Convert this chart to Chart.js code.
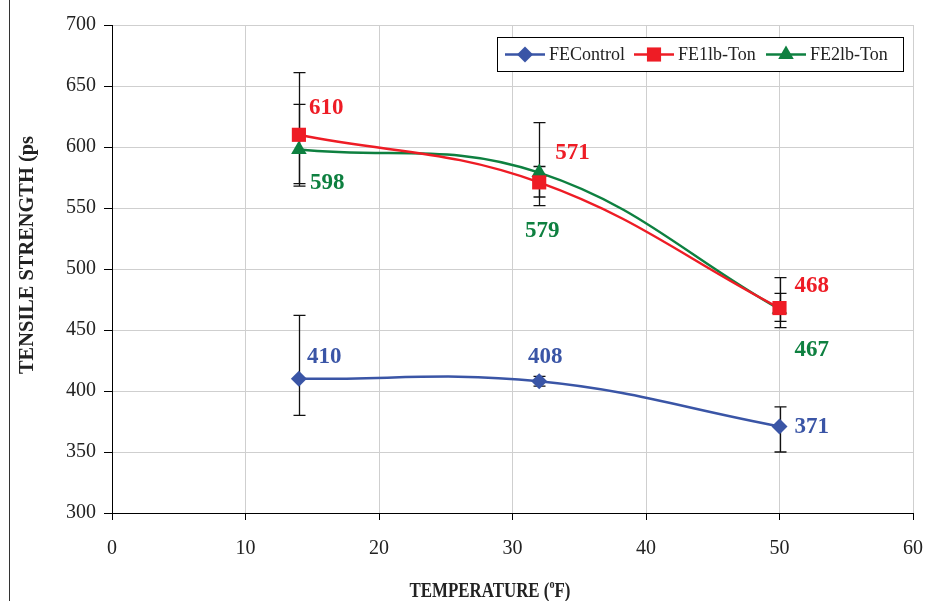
<!DOCTYPE html>
<html>
<head>
<meta charset="utf-8">
<script src="https://cdn.jsdelivr.net/npm/chart.js@4.4.0/dist/chart.umd.min.js"></script>
<style>
  html, body { margin: 0; padding: 0; background: #fff; }
  #wrap { position: relative; width: 925px; height: 601px; }
  #edge { position: absolute; left: 9px; top: 0; width: 1px; height: 601px; background: #333; }
</style>
</head>
<body>
<div id="wrap">
  <canvas id="chart" width="925" height="601"></canvas>
  <div id="edge"></div>
</div>
<script>
// temperature (F)
var temps = [14, 32, 50];
// tensile strength, psi
var feControl = [410, 408, 371];
var fe1lb = [610, 571, 468];
var fe2lb = [598, 579, 467];
// error bar ends
var feControlHigh = [462, 412, 387];
var feControlLow = [380, 404, 350];
var fe1lbHigh = [661, 620, 493];
var fe1lbLow = [568, 552, 452];
var fe2lbHigh = [635, 584, 480];
var fe2lbLow = [570, 559, 457];

var xTicks = [0, 10, 20, 30, 40, 50, 60];
var yTicks = [300, 350, 400, 450, 500, 550, 600, 650, 700];

var BLUE = '#3a55a6', RED = '#ee1c25', GREEN = '#0e8040';
var SERIF = '"Liberation Serif", "Times New Roman", serif';

function pts(vals){
  var out = [];
  for (var i = 0; i < temps.length; i++) out.push({x: temps[i], y: vals[i]});
  return out;
}

// label offsets from the point (px), per dataset
var labelOffsets = [
  [[8, -22, 'left'], [6, -24, 'center'], [15, 1, 'left']],
  [[10, -27, 'left'], [16, -29, 'left'], [15, -22, 'left']],
  [[11, 34, 'left'], [3, 58, 'center'], [15, 41, 'left']]
];

var errorBars = {
  id: 'errorBars',
  beforeDatasetsDraw: function(chart){
    var ctx = chart.ctx, xs = chart.scales.x, ys = chart.scales.y;
    ctx.save();
    ctx.strokeStyle = '#111';
    ctx.lineWidth = 1.3;
    chart.data.datasets.forEach(function(ds){
      for (var i = 0; i < ds.data.length; i++) {
        var px = Math.round(xs.getPixelForValue(ds.data[i].x)) + 0.5;
        var t = ys.getPixelForValue(ds.errHigh[i]);
        var b = ys.getPixelForValue(ds.errLow[i]);
        ctx.beginPath();
        ctx.moveTo(px, t); ctx.lineTo(px, b);
        ctx.moveTo(px - 6, t); ctx.lineTo(px + 6, t);
        ctx.moveTo(px - 6, b); ctx.lineTo(px + 6, b);
        ctx.stroke();
      }
    });
    ctx.restore();
  }
};

var valueLabels = {
  id: 'valueLabels',
  afterDatasetsDraw: function(chart){
    var ctx = chart.ctx;
    ctx.save();
    ctx.font = 'bold 23px ' + SERIF;
    ctx.textBaseline = 'middle';
    chart.data.datasets.forEach(function(ds, d){
      var meta = chart.getDatasetMeta(d);
      meta.data.forEach(function(el, i){
        var o = labelOffsets[d][i];
        ctx.fillStyle = ds.borderColor;
        ctx.textAlign = o[2];
        ctx.fillText(String(ds.data[i].y), el.x + o[0], el.y + o[1]);
      });
    });
    ctx.restore();
  }
};

var boxLegend = {
  id: 'boxLegend',
  afterDraw: function(chart){
    var ctx = chart.ctx;
    var left = 497.5, top = 37.5, w = 406, h = 34;
    ctx.save();
    ctx.fillStyle = '#fff';
    ctx.fillRect(left, top, w, h);
    ctx.strokeStyle = '#000';
    ctx.lineWidth = 1;
    ctx.strokeRect(left, top, w, h);
    var starts = [505, 634, 766];
    var cy = top + h / 2;
    ctx.font = '18px ' + SERIF;
    ctx.textBaseline = 'middle';
    ctx.textAlign = 'left';
    chart.data.datasets.forEach(function(ds, d){
      var sx = starts[d];
      ctx.strokeStyle = ds.borderColor;
      ctx.lineWidth = 2.5;
      ctx.beginPath();
      ctx.moveTo(sx, cy); ctx.lineTo(sx + 40, cy);
      ctx.stroke();
      ctx.fillStyle = ds.borderColor;
      Chart.helpers.drawPoint(ctx, {pointStyle: ds.pointStyle, radius: ds.pointRadius, rotation: 0, borderWidth: 0}, sx + 20, cy);
      ctx.fillStyle = '#222';
      ctx.fillText(ds.label, sx + 44, cy + 1);
    });
    ctx.restore();
  }
};

// squeeze text horizontally so it fills a given width (the original uses a condensed bold face)
function fitText(ctx, parts, cx, cy, width){
  var total = 0;
  parts.forEach(function(p){ ctx.font = p.font; p.w = ctx.measureText(p.text).width; total += p.w; });
  var k = width / total;
  ctx.save();
  ctx.translate(cx - width / 2, cy);
  ctx.scale(k, 1);
  var x = 0;
  parts.forEach(function(p){
    ctx.font = p.font;
    ctx.fillText(p.text, x, p.dy || 0);
    x += p.w;
  });
  ctx.restore();
}

var axisTitles = {
  id: 'axisTitles',
  afterDraw: function(chart){
    var ctx = chart.ctx;
    ctx.save();
    ctx.fillStyle = '#222';
    ctx.textBaseline = 'middle';
    ctx.textAlign = 'left';
    var big = 'bold 20px ' + SERIF, small = 'bold 12px ' + SERIF;
    // y title
    ctx.save();
    ctx.translate(28, 255);
    ctx.rotate(-Math.PI / 2);
    fitText(ctx, [{text: 'TENSILE STRENGTH (ps', font: big}], 0, 0, 238);
    ctx.restore();
    // x title with superscript "o"
    fitText(ctx, [
      {text: 'TEMPERATURE (', font: big},
      {text: 'o', font: small, dy: -7},
      {text: 'F)', font: big}
    ], 490, 592, 161);
    ctx.restore();
  }
};

function makeSet(label, vals, hi, lo, color, style, r){
  return {
    label: label,
    data: pts(vals),
    errHigh: hi,
    errLow: lo,
    borderColor: color,
    backgroundColor: color,
    borderWidth: 2.5,
    pointStyle: style,
    pointRadius: r,
    pointBorderWidth: 0,
    tension: 0.4,
    fill: false
  };
}

var ctx = document.getElementById('chart').getContext('2d');
var chart = new Chart(ctx, {
  type: 'line',
  data: {
    datasets: [
      makeSet('FEControl', feControl, feControlHigh, feControlLow, BLUE, 'rectRot', 8),
      makeSet('FE1lb-Ton', fe1lb, fe1lbHigh, fe1lbLow, RED, 'rect', 10),
      makeSet('FE2lb-Ton', fe2lb, fe2lbHigh, fe2lbLow, GREEN, 'triangle', 9)
    ]
  },
  options: {
    responsive: false,
    animation: false,
    layout: { padding: { left: 0, right: 12, top: 25, bottom: 0 } },
    plugins: { legend: { display: false }, tooltip: { enabled: false } },
    scales: {
      x: {
        type: 'linear',
        min: 0, max: 60,
        afterBuildTicks: function(s){ s.ticks = xTicks.map(function(v){ return {value: v}; }); },
        afterFit: function(s){ s.height = 88; s.paddingRight = 0; s.paddingLeft = 0; },
        grid: { color: '#cfcfcf', lineWidth: 1, tickLength: 7, tickColor: '#000' },
        border: { color: '#000', width: 1 },
        ticks: { color: '#222', padding: 17, font: { family: SERIF, size: 20 } }
      },
      y: {
        min: 300, max: 700,
        afterBuildTicks: function(s){ s.ticks = yTicks.map(function(v){ return {value: v}; }); },
        afterFit: function(s){ s.width = 112; s.paddingTop = 0; s.paddingBottom = 0; },
        grid: { color: '#cfcfcf', lineWidth: 1, tickLength: 8, tickColor: '#000' },
        border: { color: '#000', width: 1 },
        ticks: { color: '#222', padding: 8, font: { family: SERIF, size: 20 } }
      }
    }
  },
  plugins: [errorBars, valueLabels, boxLegend, axisTitles]
});
</script>
</body>
</html>
